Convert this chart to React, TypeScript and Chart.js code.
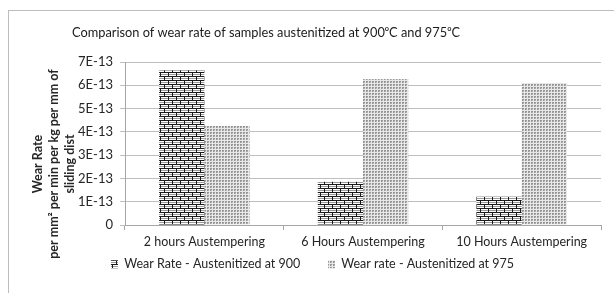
import React, { useEffect, useRef } from "react";
import { Chart, registerables } from "chart.js";

Chart.register(...registerables);

const categories = ["2 hours Austempering", "6 Hours Austempering", "10 Hours Austempering"];
const wear900 = [6.65e-13, 1.86e-13, 1.21e-13];
const wear975 = [4.25e-13, 6.27e-13, 6.1e-13];
const seriesLabels = ["Wear Rate - Austenitized at 900", "Wear rate - Austenitized at 975"];
const tickLabels = ["0", "1E-13", "2E-13", "3E-13", "4E-13", "5E-13", "6E-13", "7E-13"];
const chartTitle = "Comparison of wear rate of samples austenitized at 900\u2070C and 975\u2070C";
const yTitle = ["sliding dist", "per mm\u00B2 per min per kg per mm of", "Wear Rate"];

function brickPattern(): CanvasPattern | string {
  const c = document.createElement("canvas");
  c.width = 8;
  c.height = 8;
  const g = c.getContext("2d");
  if (!g) return "#888";
  g.fillStyle = "#ffffff";
  g.fillRect(0, 0, 8, 8);
  g.fillStyle = "#1a1a1a";
  g.fillRect(0, 0, 8, 1);
  g.fillRect(0, 4, 8, 1);
  g.fillStyle = "#9a9a9a";
  g.fillRect(0, 2, 8, 1);
  g.fillRect(0, 6, 8, 1);
  g.fillStyle = "#1a1a1a";
  g.fillRect(0, 0, 1, 4);
  g.fillRect(4, 4, 1, 4);
  return g.createPattern(c, "repeat") || "#888";
}

function dotPattern(): CanvasPattern | string {
  const c = document.createElement("canvas");
  c.width = 3;
  c.height = 3;
  const g = c.getContext("2d");
  if (!g) return "#bbb";
  g.fillStyle = "#e8e8e8";
  g.fillRect(0, 0, 3, 3);
  g.fillStyle = "#959595";
  g.fillRect(0, 0, 2, 2);
  g.fillStyle = "#b8b8b8";
  g.fillRect(1, 1, 1, 1);
  return g.createPattern(c, "repeat") || "#bbb";
}

const textPlugin = {
  id: "customText",
  afterDraw(chart: any) {
    const ctx = chart.ctx;
    ctx.save();
    ctx.fillStyle = "#1a1a1a";
    ctx.font = "12.8px Lato";
    ctx.textAlign = "center";
    ctx.textBaseline = "middle";
    ctx.fillText(chartTitle, 266, 33);
    ctx.translate(54, 164);
    ctx.rotate(-Math.PI / 2);
    ctx.font = "bold 12.5px Lato";
    ctx.fillStyle = "#262626";
    yTitle.forEach((line, i) => {
      ctx.fillText(line, 0, (1 - i) * 16);
    });
    ctx.restore();
  },
};

export default function App() {
  const ref = useRef<HTMLCanvasElement>(null);
  useEffect(() => {
    if (!ref.current) return;
    const chart = new Chart(ref.current, {
      type: "bar",
      data: {
        labels: categories,
        datasets: [
          {
            label: seriesLabels[0],
            data: wear900,
            backgroundColor: brickPattern() as any,
            borderWidth: 0,
            categoryPercentage: 0.57,
            barPercentage: 1,
          },
          {
            label: seriesLabels[1],
            data: wear975,
            backgroundColor: dotPattern() as any,
            borderWidth: 0,
            categoryPercentage: 0.57,
            barPercentage: 1,
          },
        ],
      },
      options: {
        animation: false,
        responsive: false,
        layout: { padding: { left: 24, right: 13, top: 62, bottom: 12.5 } },
        plugins: {
          title: { display: false },
          tooltip: { enabled: false },
          legend: {
            position: "bottom",
            labels: {
              boxWidth: 7,
              boxHeight: 8,
              padding: 9,
              color: "#262626",
              font: { family: "Lato", size: 12.5 },
              generateLabels(chart: any) {
                const items = Chart.defaults.plugins.legend.labels.generateLabels(chart);
                return items.map((it: any, i: number) => ({
                  ...it,
                  lineWidth: 0,
                  text: i < items.length - 1 ? it.text + "\u2003\u2003" : it.text,
                }));
              },
            },
          },
        },
        scales: {
          x: {
            grid: {
              offset: true,
              drawOnChartArea: false,
              tickLength: 5,
              color: "#a6a6a6",
            },
            border: { color: "#a6a6a6" },
            ticks: { color: "#262626", font: { family: "Lato", size: 12.5 }, padding: 4 },
            afterFit(scale: any) {
              scale.height = 24;
            },
          },
          y: {
            min: 0,
            max: 7e-13,
            grid: { color: "#bfbfbf", tickLength: 5 },
            border: { color: "#a6a6a6" },
            ticks: {
              stepSize: 1e-13,
              color: "#262626",
              font: { family: "Lato", size: 13 },
              padding: 7,
              callback: (_v: any, i: number) => tickLabels[i],
            },
            afterFit(scale: any) {
              scale.width = 101;
            },
          },
        },
      },
      plugins: [textPlugin],
    });
    return () => chart.destroy();
  }, []);
  return (
    <div style={{ position: "fixed", left: 0, top: 0, width: 614, height: 293, background: "#fff" }}>
      <div
        style={{
          position: "absolute",
          left: 8,
          top: 10,
          width: 620,
          height: 300,
          borderTop: "1px solid #bdbdbd",
          borderLeft: "1px solid #bdbdbd",
        }}
      />
      <canvas ref={ref} width={614} height={293} style={{ position: "absolute", left: 0, top: 0 }} />
    </div>
  );
}
